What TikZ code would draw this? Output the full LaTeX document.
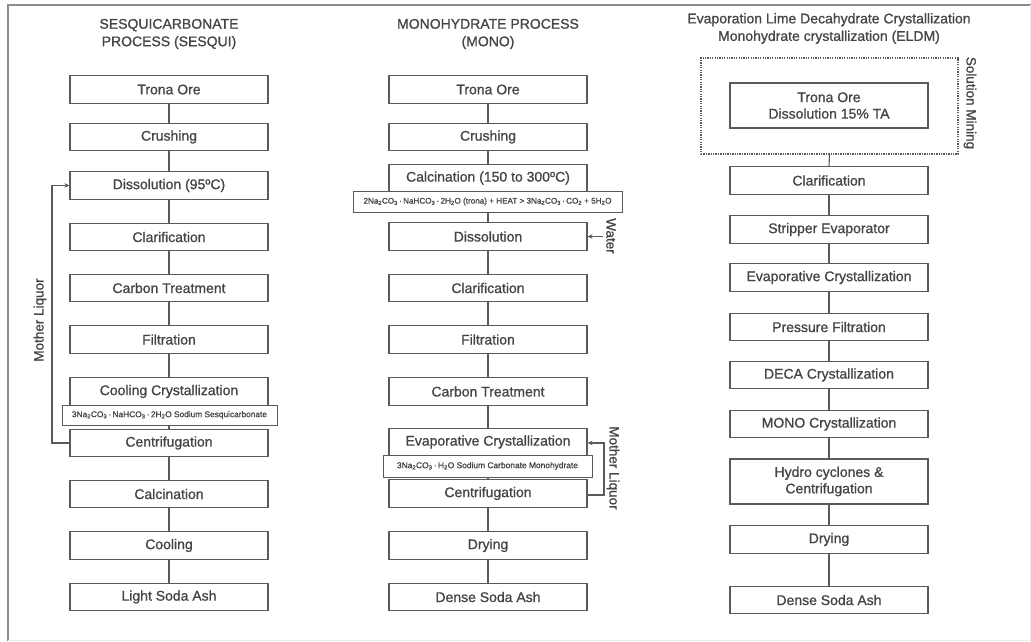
\documentclass[tikz,border=0pt]{standalone}
\usepackage{fontspec}
\setmainfont{Liberation Sans}[RawFeature={embolden=0.9}]
\usetikzlibrary{arrows.meta}
\definecolor{txt}{HTML}{454545}
\definecolor{edge}{HTML}{5A5A5A}
\newcommand{\sbs}[1]{\textsubscript{#1}}
\begin{document}
\begin{tikzpicture}[x=1pt,y=-1pt,
  box/.style={draw=edge, line width=1.1pt, fill=white, minimum width=198pt, minimum height=27.5pt, inner sep=0pt, text=txt, font=\fontsize{14}{16.5}\selectfont, align=center},
  formula/.style={draw=edge, line width=1pt, fill=white, inner sep=0pt, text=txt},
  head/.style={text=txt, font=\fontsize{14}{17.5}\selectfont, align=center},
  link/.style={draw=edge, line width=1.1pt},
  feed/.style={draw=edge, line width=1.1pt, -{Stealth[length=5pt,width=4.5pt]}},
  side/.style={text=txt, font=\fontsize{13.5}{15}\selectfont, inner sep=0pt}
]
\useasboundingbox (0,0) rectangle (1031,642);
\fill[white] (0,0) rectangle (1031,642);
% frame
\draw[draw=black!45, line width=2pt] (8,641) -- (8,5) -- (1031,5);
\draw[draw=black!8, line width=1pt] (8,640.5) -- (1030,640.5) -- (1030,5);

% headings
\node[head] (h1) at (169,34) {SESQUICARBONATE\\PROCESS (SESQUI)};
\node[head] (h2) at (488,34) {MONOHYDRATE PROCESS\\(MONO)};
\node[head] (h3) at (829,28.5) {Evaporation Lime Decahydrate Crystallization\\Monohydrate crystallization (ELDM)};

% column 1
\node[box] (t1)  at (169,89.5)  {Trona Ore};
\node[box] (c1)  at (169,137)   {Crushing};
\node[box] (d1)  at (169,185.5) {Dissolution (95ºC)};
\node[box] (cl1) at (169,237)   {Clarification};
\node[box] (ca1) at (169,288)   {Carbon Treatment};
\node[box] (f1)  at (169,339.5) {Filtration};
\node[box] (cc1) at (169,391.5) {Cooling Crystallization};
\node[box] (ce1) at (169,443)   {Centrifugation};
\node[box] (k1)  at (169,494)   {Calcination};
\node[box] (co1) at (169,545.5) {Cooling};
\node[box] (l1)  at (169,597)   {Light Soda Ash};

% column 2
\node[box] (t2)  at (488,89.5)  {Trona Ore};
\node[box] (c2)  at (488,137)   {Crushing};
\node[box] (k2)  at (488,178)   {Calcination (150 to 300ºC)};
\node[box] (d2)  at (488,236.5) {Dissolution};
\node[box] (cl2) at (488,288)   {Clarification};
\node[box] (f2)  at (488,339.5) {Filtration};
\node[box] (ca2) at (488,391.5) {Carbon Treatment};
\node[box, minimum height=26.5pt] (e2) at (488,442) {Evaporative Crystallization};
\node[box] (ce2) at (488,493.5) {Centrifugation};
\node[box] (dr2) at (488,545.5) {Drying};
\node[box] (ds2) at (488,597)   {Dense Soda Ash};

% column 3
\node[draw=edge, line width=1.2pt, dash pattern=on 1.3pt off 1.1pt, minimum width=257pt, minimum height=96pt, inner sep=0pt] (sm) at (829.5,106) {};
\node[box, minimum height=45pt] (t3) at (829,105.5) {Trona Ore\\Dissolution 15\% TA};
\node[box] (cl3) at (829,180.5) {Clarification};
\node[box] (st3) at (829,229.5) {Stripper Evaporator};
\node[box] (ev3) at (829,277.5) {Evaporative Crystallization};
\node[box] (pf3) at (829,327)   {Pressure Filtration};
\node[box] (de3) at (829,375)   {DECA Crystallization};
\node[box] (mo3) at (829,424)   {MONO Crystallization};
\node[box, minimum height=45pt] (hy3) at (829,481.5) {Hydro cyclones \&\\Centrifugation};
\node[box] (dr3) at (829,539.5) {Drying};
\node[box] (ds3) at (829,600)   {Dense Soda Ash};
\node[side, rotate=-90] (smt) at (970,103) {Solution Mining};

% connectors
\foreach \a/\b in {t1/c1,c1/d1,d1/cl1,cl1/ca1,ca1/f1,f1/cc1,cc1/ce1,ce1/k1,k1/co1,co1/l1,
  t2/c2,c2/k2,k2/d2,d2/cl2,cl2/f2,f2/ca2,ca2/e2,e2/ce2,ce2/dr2,dr2/ds2,
  sm/cl3,cl3/st3,st3/ev3,ev3/pf3,pf3/de3,de3/mo3,mo3/hy3,hy3/dr3,dr3/ds3}
  \draw[link] (\a.south) -- (\b.north);

% formula boxes
\node[formula, minimum width=215pt, minimum height=20pt] (fx1) at (169.5,415)
  {\resizebox{195pt}{!}{3Na\sbs{2}CO\sbs{3}\,·\,NaHCO\sbs{3}\,·\,2H\sbs{2}O Sodium Sesquicarbonate}};
\node[formula, minimum width=269pt, minimum height=21pt] (fx2) at (487.5,201.5)
  {\resizebox{248pt}{!}{2Na\sbs{2}CO\sbs{3}\,·\,NaHCO\sbs{3}\,·\,2H\sbs{2}O (trona) + HEAT > 3Na\sbs{2}CO\sbs{3}\,·\,CO\sbs{2} + 5H\sbs{2}O}};
\node[formula, minimum width=209pt, minimum height=22pt] (fx3) at (487.5,466)
  {\resizebox{181pt}{!}{3Na\sbs{2}CO\sbs{3}\,·\,H\sbs{2}O Sodium Carbonate Monohydrate}};

% recycle loops
\coordinate (ml1) at (52,443);
\coordinate (ml1t) at (52,185.5);
\draw[feed] (ce1.west) -- (ml1) -- (ml1t) -- (d1.west);
\node[side, rotate=90] (mlt1) at (40,320) {Mother Liquor};

\coordinate (w0) at (603,236.5);
\draw[feed] (w0) -- (d2.east);
\node[side, rotate=-90] (wt) at (611,236) {Water};

\coordinate (ml2) at (604,495);
\coordinate (ml2t) at (604,443);
\draw[feed] (ce2.east |- ml2) -- (ml2) -- (ml2t) -- (e2.east |- ml2t);
\node[side, rotate=-90] (mlt2) at (613,468) {Mother Liquor};
\end{tikzpicture}
\end{document}
